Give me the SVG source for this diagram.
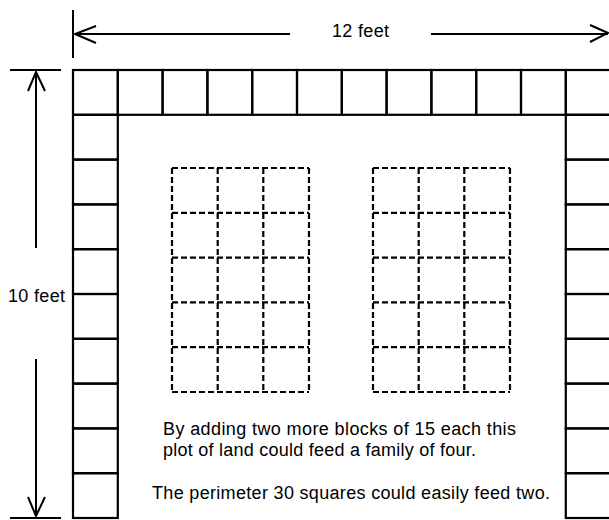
<svg xmlns="http://www.w3.org/2000/svg" width="609" height="520" viewBox="0 0 609 520">
<style>
.sq{fill:none;stroke:#000;stroke-width:2.2}
.dash{fill:none;stroke:#000;stroke-width:2.2;stroke-dasharray:6 3}
.dim{fill:none;stroke:#000;stroke-width:2}
.txt{font-family:"Liberation Sans",Arial,sans-serif;font-size:18px;fill:#000}
</style>
<defs>
<rect id="cell" width="44.8" height="44.8" class="sq"/>
</defs>
<rect width="609" height="520" fill="#fff"/>
<g id="perimeter">
<g id="top-row">
<use href="#cell" x="73" y="70"/><use href="#cell" x="117.8" y="70"/><use href="#cell" x="162.6" y="70"/><use href="#cell" x="207.4" y="70"/><use href="#cell" x="252.2" y="70"/><use href="#cell" x="297" y="70"/><use href="#cell" x="341.8" y="70"/><use href="#cell" x="386.6" y="70"/><use href="#cell" x="431.4" y="70"/><use href="#cell" x="476.2" y="70"/><use href="#cell" x="521" y="70"/><use href="#cell" x="565.8" y="70"/>
</g>
<g id="left-column">
<use href="#cell" x="73" y="114.8"/><use href="#cell" x="73" y="159.6"/><use href="#cell" x="73" y="204.4"/><use href="#cell" x="73" y="249.2"/><use href="#cell" x="73" y="294"/><use href="#cell" x="73" y="338.8"/><use href="#cell" x="73" y="383.6"/><use href="#cell" x="73" y="428.4"/><use href="#cell" x="73" y="473.2"/>
</g>
<g id="right-column">
<use href="#cell" x="565.8" y="114.8"/><use href="#cell" x="565.8" y="159.6"/><use href="#cell" x="565.8" y="204.4"/><use href="#cell" x="565.8" y="249.2"/><use href="#cell" x="565.8" y="294"/><use href="#cell" x="565.8" y="338.8"/><use href="#cell" x="565.8" y="383.6"/><use href="#cell" x="565.8" y="428.4"/><use href="#cell" x="565.8" y="473.2"/>
</g>
</g>
<g id="bed-left">
<path class="dash" d="M172 168H309M172 212.8H309M172 257.6H309M172 302.4H309M172 347.2H309M172 392H309"/>
<path class="dash" d="M172 168V392M217.7 168V392M263.3 168V392M309 168V392"/>
</g>
<g id="bed-right">
<path class="dash" d="M373 168H510M373 212.8H510M373 257.6H510M373 302.4H510M373 347.2H510M373 392H510"/>
<path class="dash" d="M373 168V392M418.7 168V392M464.3 168V392M510 168V392"/>
</g>
<g id="connectors">
<path class="dim" d="M73 10V58"/>
<path class="dim" d="M75 34H290M431 34H608"/>
<path class="dim" d="M96 26L75 34L96 43"/>
<path class="dim" d="M590 25L608 33L590 42"/>
<path class="dim" d="M10 70H61M10 518H61"/>
<path class="dim" d="M36 72V248M36 359V516"/>
<path class="dim" d="M28 91L36 72L45 91"/>
<path class="dim" d="M28 497L36 516L45 497"/>
</g>
<g id="labels">
<text class="txt" x="332" y="37" textLength="57" lengthAdjust="spacing">12 feet</text>
<text class="txt" x="8" y="302" textLength="57" lengthAdjust="spacing">10 feet</text>
<text class="txt" x="163" y="435" textLength="353" lengthAdjust="spacing">By adding two more blocks of 15 each this</text>
<text class="txt" x="163" y="456" textLength="313" lengthAdjust="spacing">plot of land could feed a family of four.</text>
<text class="txt" x="152" y="499" textLength="398" lengthAdjust="spacing">The perimeter 30 squares could easily feed two.</text>
</g>
</svg>
